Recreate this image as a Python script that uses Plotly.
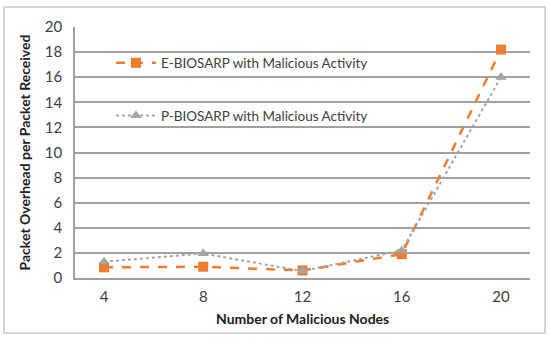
import plotly.graph_objects as go

categories = ["4", "8", "12", "16", "20"]
e_biosarp = [0.85, 0.9, 0.6, 1.9, 18.2]
p_biosarp = [1.3, 1.95, 0.55, 2.2, 16.0]
y_ticks = [0, 2, 4, 6, 8, 10, 12, 14, 16, 18, 20]

fig = go.Figure()
fig.add_trace(go.Scatter(
    x=categories, y=e_biosarp, name="E-BIOSARP with Malicious Activity",
    mode="lines+markers", legendgroup="e", legendrank=1,
    line=dict(color="#ED7D31", width=2.5, dash="dash"),
    marker=dict(symbol="square", size=10, color="#ED7D31")))
fig.add_trace(go.Scatter(
    x=categories, y=p_biosarp, name="P-BIOSARP with Malicious Activity",
    mode="lines+markers", legendgroup="p", legendrank=2,
    line=dict(color="#A5A5A5", width=2, dash="dot"),
    marker=dict(symbol="triangle-up", size=10, color="#A5A5A5")))

fig.update_layout(
    width=550, height=340,
    margin=dict(l=75, r=20, t=27, b=62, autoexpand=False),
    paper_bgcolor="white", plot_bgcolor="white",
    font=dict(family="Lato, Open Sans, sans-serif", size=15, color="#404040"),
    legend=dict(x=0.079, y=0.918, xanchor="left", yanchor="top",
                traceorder="grouped",
                bgcolor="rgba(0,0,0,0)", tracegroupgap=32, itemwidth=40,
                font=dict(size=13.5, color="#404040")),
    xaxis=dict(type="category", showgrid=False, showline=True,
               linecolor="#a0a0a0", linewidth=1.5, ticks="",
               automargin=False, ticklabelstandoff=4),
    yaxis=dict(range=[0, 20], tickvals=y_ticks, showgrid=True,
               gridcolor="#a0a0a0", gridwidth=1.5, showline=True,
               linecolor="#a0a0a0", linewidth=1.5, zeroline=False, ticks="",
               automargin=False, ticklabelstandoff=8),
    annotations=[
        dict(text="<b>Number of Malicious Nodes</b>", xref="paper", yref="paper",
             x=0.5, y=-0.163, xanchor="center", yanchor="middle", showarrow=False,
             font=dict(size=14, color="#202020")),
        dict(text="<b>Packet Overhead per Packet Received</b>", xref="paper", yref="paper",
             x=-0.11, y=0.5, xanchor="center", yanchor="middle", showarrow=False,
             textangle=-90, font=dict(size=14, color="#202020")),
    ],
    shapes=[dict(type="rect", xref="paper", yref="paper",
                 x0=-0.156, x1=1.033, y0=-0.219, y1=1.08,
                 line=dict(color="#c8c8c8", width=1.5), layer="below")],
)

fig.write_html("out.html", config={"displayModeBar": False},
               post_script="document.body.style.margin='0';")
